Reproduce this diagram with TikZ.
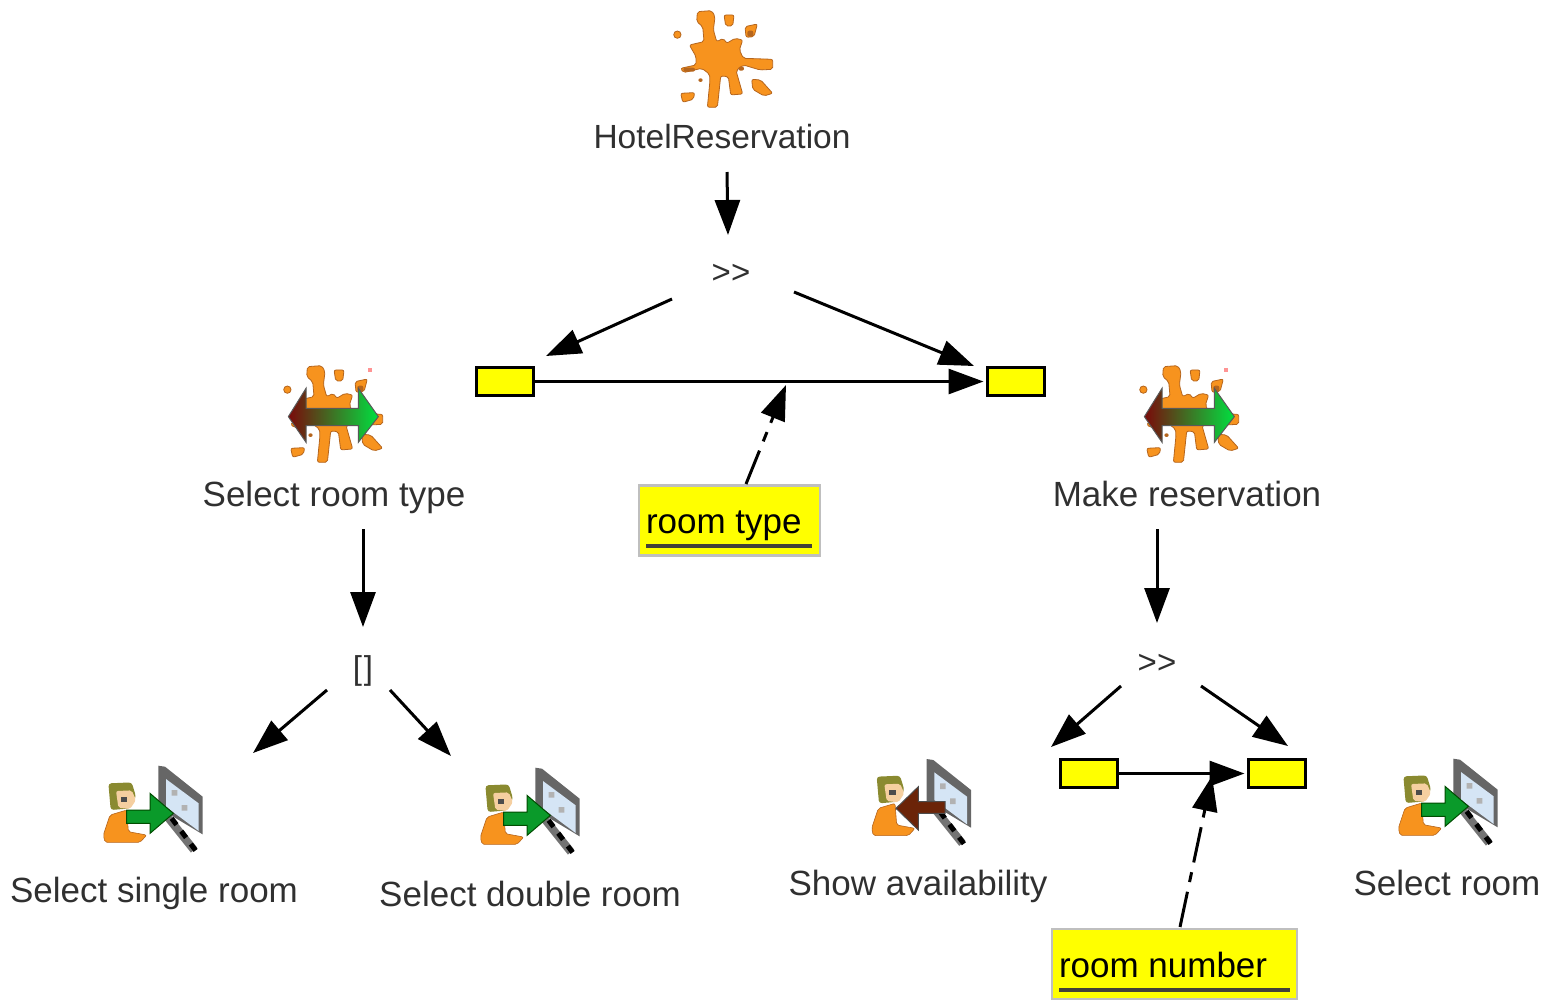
\documentclass[tikz,border=0pt]{standalone}
\usepackage{fontspec}
\setmainfont{Liberation Sans}
\usetikzlibrary{arrows.meta}
\definecolor{splato}{HTML}{F7931E}
\definecolor{splatd}{HTML}{B5651D}
\definecolor{inktext}{HTML}{303030}
\definecolor{pureyellow}{RGB}{255,255,0}
\definecolor{hairc}{HTML}{8A8A30}
\definecolor{facec}{HTML}{F5CFA0}
\definecolor{greenarrow}{HTML}{0A9A2A}
\definecolor{brownarrow}{HTML}{6B2408}
\definecolor{panelc}{HTML}{D5E5F5}
\definecolor{redstart}{HTML}{7A0A0A}
\definecolor{greenend}{HTML}{00E040}
\tikzset{
  conn/.style={draw=black,line width=3pt,-{Triangle[length=35pt,width=25pt]}},
  dashconn/.style={conn,dash pattern=on 36pt off 10pt on 10pt off 10pt},
  lbl/.style={text=inktext,font=\fontsize{35}{40}\selectfont,inner sep=0pt,outer sep=0pt,text height=24pt,text depth=0pt},
  toplbl/.style={lbl,font=\fontsize{33.5}{40}\selectfont},
  op/.style={text=inktext,font=\fontsize{33}{38}\selectfont,inner sep=0pt,outer sep=0pt,text height=24pt,text depth=0pt},
  slot/.style={draw=black,fill=pureyellow,line width=2.6pt,minimum width=57pt,minimum height=28pt,inner sep=0pt,outer sep=0pt},
  notebox/.style={draw=black!25,fill=pureyellow,line width=2.5pt,minimum height=70pt,inner sep=0pt,outer sep=0pt},
  notetxt/.style={text=black,font=\fontsize{35}{40}\selectfont,inner sep=0pt,outer sep=0pt,anchor=base west},
  uline/.style={draw=black!85!yellow,line width=3.5pt},
  splatpic/.pic={
    \begin{scope}[scale=0.3333,shift={(-170,-175)},fill=splato,draw=splatd,line width=0.8pt,rounded corners=2pt]
      \filldraw (112,35)--(155,32)--(165,50)--(160,90)--(170,125)--(190,115)--(200,130)--(225,115)--(248,120)--(238,150)--(250,175)--(338,178)--(338,208)--(300,210)--(250,195)--(228,212)--(248,282)--(212,285)--(205,230)--(182,228)--(172,322)--(142,322)--(150,240)--(148,222)--(125,205)--(70,218)--(62,205)--(108,195)--(108,170)--(88,135)--(132,125)--(128,80)--(110,65)--cycle;
      \filldraw (192,45)--(222,45)--(218,78)--(197,78)--cycle;
      \filldraw (255,80)--(292,72)--(282,110)--(258,112)--cycle;
      \filldraw (52,104) circle (11);
      \filldraw (275,238)--(302,240)--(338,280)--(312,288)--(278,268)--cycle;
      \filldraw (62,280)--(104,278)--(100,298)--(68,307)--cycle;
      \fill[splatd] (262,92) rectangle (280,110);
      \fill[splatd] (70,203) rectangle (105,215);
      \fill[splatd] (115,235) rectangle (128,246);
      \fill[splatd] (235,200) rectangle (252,212);
    \end{scope}
  },
  bothpic/.pic={
    \begin{scope}[scale=0.3333,shift={(-170,-175)}]
      \fill[red!70!white,opacity=.6] (293,38) rectangle (307,52);
      \path[left color=redstart,right color=greenend,draw=black!65,line width=1pt]
        (55,185)--(108,100)--(108,160)--(265,160)--(265,100)--(325,185)--(265,262)--(265,212)--(108,212)--(108,262)--cycle;
    \end{scope}
  },
  personpic/.pic={
    \begin{scope}[scale=0.3333,shift={(-170,-170)}]
      % screen
      \draw[black!55,line width=8pt] (232,185)--(312,285);
      \draw[black,line width=5pt,dash pattern=on 8pt off 8pt] (245,190)--(318,288);
      \fill[black!60] (205,32)--(225,35)--(338,125)--(338,238)--(225,170)--(205,180)--cycle;
      \fill[panelc] (228,72)--(326,145)--(326,228)--(228,155)--cycle;
      \fill[black!30] (245,105) rectangle (262,122) (275,150) rectangle (292,167);
      % person
      \fill[splato,draw=splatd,line width=.6pt,rounded corners=2pt] (60,180)--(110,165)--(115,230)--(170,240)--(150,262)--(45,262)--(40,240)--cycle;
      \fill[hairc,rounded corners=3pt] (55,85)--(125,82)--(138,125)--(120,160)--(62,165)--cycle;
      \fill[facec,rounded corners=2pt] (78,108)--(125,106)--(138,135)--(120,162)--(85,158)--cycle;
      \fill[black!70] (92,125) rectangle (112,140);
    \end{scope}
  },
  inarrow/.pic={
    \begin{scope}[scale=0.3333,shift={(-170,-170)}]
      \filldraw[fill=greenarrow,draw=black!70!green,line width=1pt] (110,165)--(180,165)--(180,115)--(250,175)--(180,235)--(180,205)--(110,205)--cycle;
    \end{scope}
  },
  outarrow/.pic={
    \begin{scope}[scale=0.3333,shift={(-170,-170)}]
      \filldraw[fill=brownarrow,draw=black!70,line width=1pt] (260,160)--(180,160)--(180,115)--(113,180)--(180,245)--(180,195)--(260,195)--cycle;
    \end{scope}
  }
}
\begin{document}
\begin{tikzpicture}[x=1pt,y=-1pt]
\useasboundingbox (0,0) rectangle (1549,999);
% icons
\pic at (716.7,58.3) {splatpic};
\pic at (326.7,413.3) {splatpic};
\pic at (326.7,413.3) {bothpic};
\pic at (1182.7,413.3) {splatpic};
\pic at (1182.7,413.3) {bothpic};
\pic at (146.7,811.7) {personpic};
\pic at (146.7,811.7) {inarrow};
\pic at (523.7,813.7) {personpic};
\pic at (523.7,813.7) {inarrow};
\pic at (915,805) {personpic};
\pic at (915,805) {outarrow};
\pic at (1441.7,804.7) {personpic};
\pic at (1441.7,804.7) {inarrow};
% labels
\node[toplbl] (hotel) at (722,136) {HotelReservation};
\node[op] (seqA) at (731,271) {{>}\kern0pt{>}};
\node[slot] (slotA) at (505,381.5) {};
\node[slot] (slotB) at (1016,381.5) {};
\node[notebox,minimum width=181pt] (noteA) at (729.5,520.5) {};
\node[notetxt] (noteAtxt) at (646,533) {room type};
\node[lbl] (typeLbl) at (334,494) {Select room type};
\node[lbl] (makeLbl) at (1187,494) {Make reservation};
\node[op] (choice) at (363,667) {[\kern2pt]};
\node[op] (seqB) at (1157,661) {{>}\kern0pt{>}};
\node[slot] (slotC) at (1089,773.5) {};
\node[slot] (slotD) at (1277,773.5) {};
\node[notebox,minimum width=245pt] (noteB) at (1174.5,964) {};
\node[notetxt] (noteBtxt) at (1059,977) {room number};
\node[lbl] (single) at (154,890) {Select single room};
\node[lbl] (double) at (530,894) {Select double room};
\node[lbl] (avail) at (918,883) {Show availability};
\node[lbl] (roomsel) at (1447,883) {Select room};
% underlines
\draw[uline] ([shift={(-83.5,25.5)}]noteA.center) -- ([shift={(82.5,25.5)}]noteA.center);
\draw[uline] ([shift={(-115.5,26)}]noteB.center) -- ([shift={(115.5,26)}]noteB.center);
% free ends
\coordinate (jA) at (786,385);
\coordinate (jB) at (1212,776);
\coordinate (endSingle) at (253,753);
\coordinate (endDouble) at (451,756);
% connectors
\draw[conn] ([shift={(5,36)}]hotel.center) -- ([shift={(-3,-36)}]seqA.center);
\draw[conn] ([shift={(-59,28)}]seqA.center) -- ([shift={(41,-25.5)}]slotA.center);
\draw[conn] ([shift={(63,21)}]seqA.center) -- ([shift={(-42,-15.5)}]slotB.center);
\draw[conn] (slotA.east) -- ([xshift=-4pt]slotB.west);
\draw[dashconn] ([shift={(16.5,-36.5)}]noteA.center) -- (jA);
\draw[conn] ([shift={(29,35)}]typeLbl.center) -- ([shift={(0,-40)}]choice.center);
\draw[conn] ([shift={(-36,23)}]choice.center) -- (endSingle);
\draw[conn] ([shift={(27,23)}]choice.center) -- (endDouble);
\draw[conn] ([shift={(-30,35)}]makeLbl.center) -- ([shift={(0,-38)}]seqB.center);
\draw[conn] ([shift={(-36,25)}]seqB.center) -- ([shift={(-38,-26.5)}]slotC.center);
\draw[conn] ([shift={(44,25)}]seqB.center) -- ([shift={(11,-27.5)}]slotD.center);
\draw[conn] (slotC.east) -- ([xshift=-4pt]slotD.west);
\draw[dashconn] ([shift={(5.5,-37)}]noteB.center) -- (jB);
\end{tikzpicture}
\end{document}
